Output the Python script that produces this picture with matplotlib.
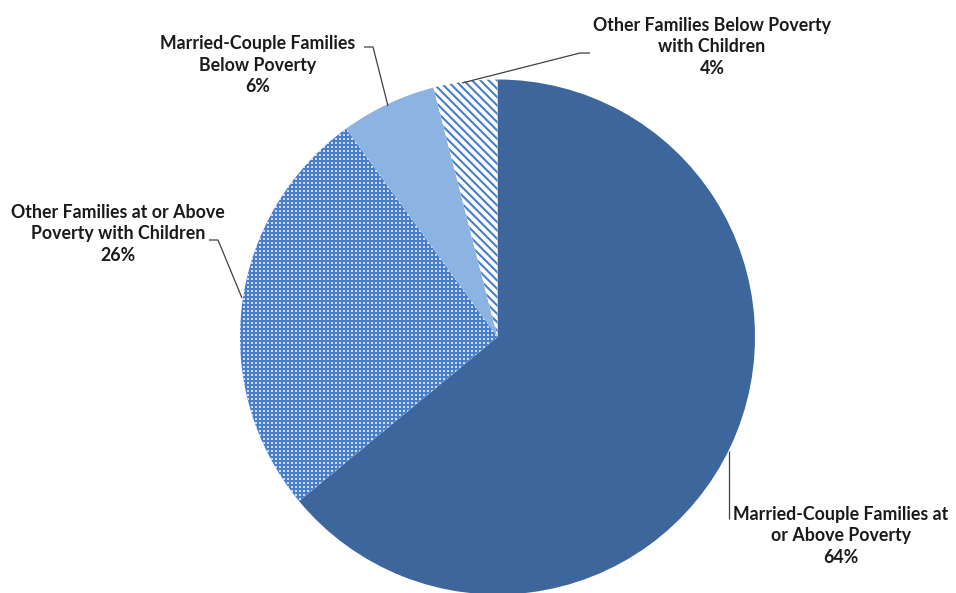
import matplotlib
matplotlib.use("Agg")
import matplotlib.pyplot as plt
import numpy as np

# Family composition shares (percent)
categories = [
    "Married-Couple Families at\nor Above Poverty",
    "Other Families at or Above\nPoverty with Children",
    "Married-Couple Families\nBelow Poverty",
    "Other Families Below Poverty\nwith Children",
]
shares = [64, 26, 6, 4]

face_colors = ["#3D679C", "#4A7ECB", "#8DB3E2", "#FFFFFF"]
edge_colors = ["#3D679C", "#4A7ECB", "#8DB3E2", "#4A7ECB"]
hatches = [None, None, None, "\\\\\\\\"]
dotted = [False, True, False, False]

W, H = 956, 593
fig = plt.figure(figsize=(W / 100, H / 100), dpi=100)
ax = fig.add_axes([0, 0, 1, 1])

plt.rcParams["hatch.linewidth"] = 1.5

cx, cy, r = 497.5, H - 337, 257.5
wedges, _ = ax.pie(shares, startangle=90, counterclock=False,
                   center=(cx, cy), radius=r, frame=True,
                   wedgeprops=dict(linewidth=0))
ax.set_xlim(0, W)
ax.set_ylim(0, H)
ax.set_aspect("equal")
ax.axis("off")

for w, fc, ec, h, dot in zip(wedges, face_colors, edge_colors, hatches, dotted):
    w.set_facecolor(fc)
    w.set_edgecolor(ec)
    w.set_linewidth(0)
    if h:
        w.set_hatch(h)
    if dot:
        # fine white dot texture over the wedge
        gx, gy = np.meshgrid(np.arange(cx - r, cx + r, 4.0),
                             np.arange(cy - r, cy + r, 4.0))
        sc = ax.scatter(gx.ravel(), gy.ravel(), s=0.55, marker="s",
                        color="white", linewidths=0, alpha=0.75, zorder=3)
        sc.set_clip_path(w)

font = dict(family=["Lato", "DejaVu Sans"], fontweight="bold", fontsize=12.8,
            color="#1A1A1A", ha="center", va="center", linespacing=1.3)

# label centres and leader-line paths (x, y measured from the top)
label_pos = [(841, 536), (118, 234), (258, 65), (712, 47)]
leaders = [
    [(729, 451), (729, 519)],
    [(242, 298), (218, 240), (209, 240)],
    [(388, 106), (373, 47), (364, 47)],
    [(462, 83), (580, 53), (590, 53)],
]

for name, val, (lx, ly), path in zip(categories, shares, label_pos, leaders):
    ax.text(lx, H - ly, f"{name}\n{val}%", **font)
    xs = [p[0] for p in path]
    ys = [H - p[1] for p in path]
    ax.plot(xs, ys, color="#404040", lw=0.9, solid_capstyle="butt")

fig.savefig("out.png", dpi=100, facecolor="white")
